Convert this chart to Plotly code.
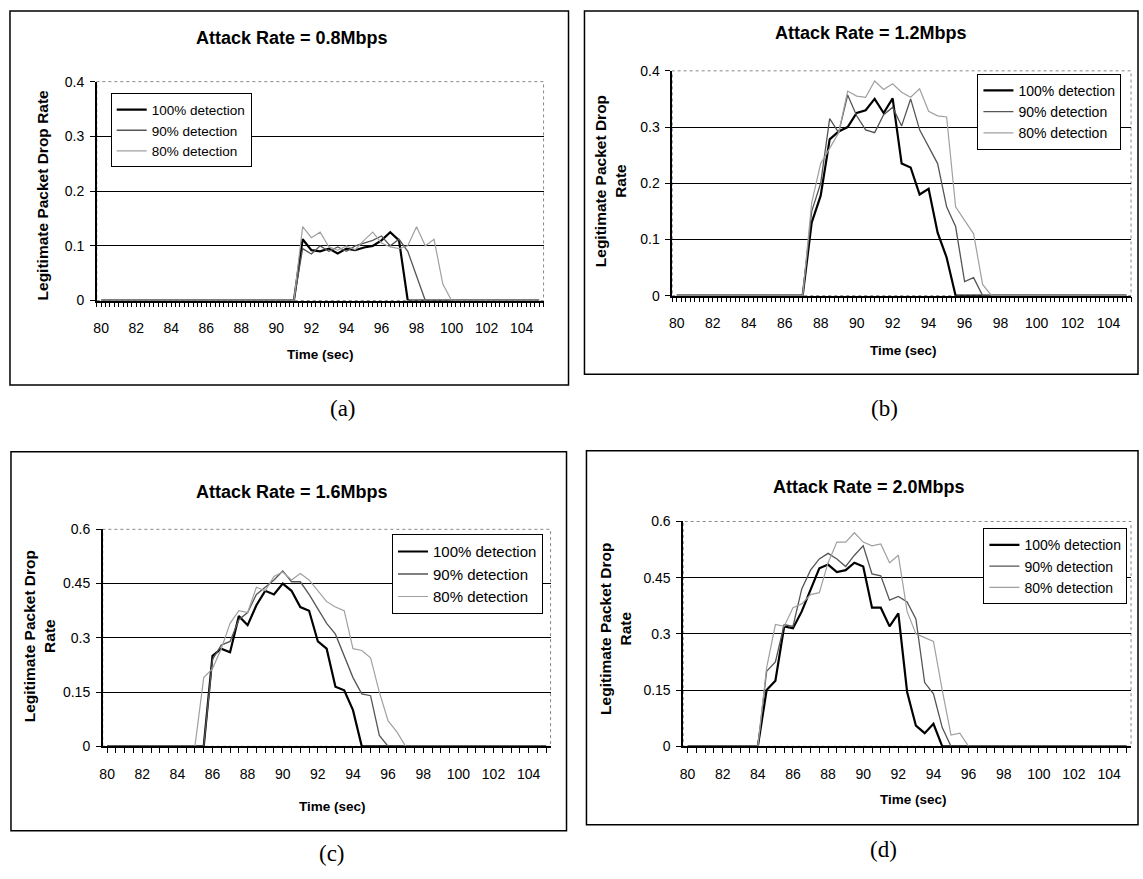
import plotly.graph_objects as go

W, H = 1143, 879

series_names = ["100% detection", "90% detection", "80% detection"]
panel_titles = ["Attack Rate = 0.8Mbps", "Attack Rate = 1.2Mbps",
                "Attack Rate = 1.6Mbps", "Attack Rate = 2.0Mbps"]
captions = ["(a)", "(b)", "(c)", "(d)"]
x_title = "Time (sec)"
y_title_a = "Legitimate Packet Drop Rate"
y_title_bcd = "Legitimate Packet Drop<br>Rate"
x_tick_first = 80
x_tick_step = 2
y_ticks_ab = [0, 0.1, 0.2, 0.3, 0.4]
y_labels_ab = ["0", "0.1", "0.2", "0.3", "0.4"]
y_ticks_cd = [0, 0.15, 0.3, 0.45, 0.6]
y_labels_cd = ["0", "0.15", "0.3", "0.45", "0.6"]

# ---- (a) 0.8 Mbps ----
a_t100 = [80, 91.0, 91.5, 92.0, 92.5, 93.0, 93.5, 94.0, 94.5, 95.0, 95.5, 96.0, 96.5, 97.0, 97.5, 105]
a_v100 = [0, 0, 0.112, 0.092, 0.090, 0.095, 0.086, 0.095, 0.092, 0.097, 0.100, 0.110, 0.125, 0.110, 0, 0]
a_t90 = [80, 91.0, 91.5, 92.0, 92.5, 93.0, 93.5, 94.0, 94.5, 95.0, 95.5, 96.0, 96.5, 97.0, 97.5, 98.0, 98.5, 105]
a_v90 = [0, 0, 0.095, 0.085, 0.100, 0.090, 0.098, 0.090, 0.100, 0.105, 0.110, 0.118, 0.100, 0.112, 0.090, 0.045, 0, 0]
a_t80 = [80, 91.0, 91.5, 92.0, 92.5, 93.0, 93.5, 94.0, 94.5, 95.0, 95.5, 96.0, 96.5, 97.0, 97.5, 98.0, 98.5, 99.0, 99.5, 100.0, 105]
a_v80 = [0, 0, 0.135, 0.115, 0.125, 0.098, 0.092, 0.100, 0.093, 0.110, 0.125, 0.105, 0.098, 0.095, 0.100, 0.135, 0.100, 0.112, 0.030, 0, 0]

# ---- (b) 1.2 Mbps ----
b_t100 = [80, 87.0, 87.5, 88.0, 88.5, 89.0, 89.5, 90.0, 90.5, 91.0, 91.5, 92.0, 92.5, 93.0, 93.5, 94.0, 94.5, 95.0, 95.5, 105]
b_v100 = [0, 0, 0.130, 0.178, 0.278, 0.292, 0.300, 0.325, 0.330, 0.350, 0.325, 0.351, 0.235, 0.228, 0.180, 0.190, 0.112, 0.068, 0, 0]
b_t90 = [80, 87.0, 87.5, 88.0, 88.5, 89.0, 89.5, 90.0, 90.5, 91.0, 91.5, 92.0, 92.5, 93.0, 93.5, 94.0, 94.5, 95.0, 95.5, 96.0, 96.5, 97.0, 105]
b_v90 = [0, 0, 0.150, 0.200, 0.315, 0.290, 0.357, 0.320, 0.295, 0.290, 0.322, 0.335, 0.302, 0.350, 0.295, 0.265, 0.235, 0.158, 0.123, 0.025, 0.032, 0, 0]
b_t80 = [80, 87.0, 87.5, 88.0, 88.5, 89.0, 89.5, 90.0, 90.5, 91.0, 91.5, 92.0, 92.5, 93.0, 93.5, 94.0, 94.5, 95.0, 95.5, 96.0, 96.5, 97.0, 97.5, 105]
b_v80 = [0, 0, 0.165, 0.235, 0.262, 0.290, 0.364, 0.355, 0.353, 0.382, 0.367, 0.377, 0.362, 0.353, 0.368, 0.328, 0.320, 0.318, 0.158, 0.135, 0.110, 0.020, 0, 0]

# ---- (c) 1.6 Mbps ----
c_t100 = [80, 85.5, 86.0, 86.5, 87.0, 87.5, 88.0, 88.5, 89.0, 89.5, 90.0, 90.5, 91.0, 91.5, 92.0, 92.5, 93.0, 93.5, 94.0, 94.5, 105]
c_v100 = [0, 0, 0.250, 0.270, 0.260, 0.360, 0.335, 0.390, 0.430, 0.420, 0.450, 0.430, 0.385, 0.375, 0.290, 0.270, 0.165, 0.155, 0.100, 0, 0]
c_t90 = [80, 85.5, 86.0, 86.5, 87.0, 87.5, 88.0, 88.5, 89.0, 89.5, 90.0, 90.5, 91.0, 91.5, 92.0, 92.5, 93.0, 93.5, 94.0, 94.5, 95.0, 95.5, 96.0, 105]
c_v90 = [0, 0, 0.240, 0.280, 0.290, 0.350, 0.370, 0.420, 0.440, 0.460, 0.485, 0.455, 0.455, 0.420, 0.380, 0.340, 0.310, 0.250, 0.190, 0.145, 0.140, 0.030, 0, 0]
c_t80 = [80, 85.0, 85.5, 86.0, 86.5, 87.0, 87.5, 88.0, 88.5, 89.0, 89.5, 90.0, 90.5, 91.0, 91.5, 92.0, 92.5, 93.0, 93.5, 94.0, 94.5, 95.0, 95.5, 96.0, 96.5, 97.0, 105]
c_v80 = [0, 0, 0.190, 0.215, 0.270, 0.340, 0.375, 0.370, 0.440, 0.430, 0.470, 0.482, 0.460, 0.478, 0.460, 0.430, 0.400, 0.385, 0.375, 0.270, 0.265, 0.245, 0.150, 0.070, 0.040, 0, 0]

# ---- (d) 2.0 Mbps ----
d_t100 = [80, 84.0, 84.5, 85.0, 85.5, 86.0, 86.5, 87.0, 87.5, 88.0, 88.5, 89.0, 89.5, 90.0, 90.5, 91.0, 91.5, 92.0, 92.5, 93.0, 93.5, 94.0, 94.5, 105]
d_v100 = [0, 0, 0.150, 0.175, 0.320, 0.315, 0.360, 0.420, 0.475, 0.485, 0.465, 0.470, 0.490, 0.480, 0.370, 0.370, 0.320, 0.355, 0.145, 0.055, 0.035, 0.060, 0, 0]
d_t90 = [80, 84.0, 84.5, 85.0, 85.5, 86.0, 86.5, 87.0, 87.5, 88.0, 88.5, 89.0, 89.5, 90.0, 90.5, 91.0, 91.5, 92.0, 92.5, 93.0, 93.5, 94.0, 94.5, 95.0, 105]
d_v90 = [0, 0, 0.200, 0.225, 0.325, 0.320, 0.420, 0.470, 0.500, 0.515, 0.500, 0.480, 0.510, 0.535, 0.460, 0.455, 0.390, 0.400, 0.385, 0.340, 0.170, 0.140, 0.050, 0, 0]
d_t80 = [80, 84.0, 84.5, 85.0, 85.5, 86.0, 86.5, 87.0, 87.5, 88.0, 88.5, 89.0, 89.5, 90.0, 90.5, 91.0, 91.5, 92.0, 92.5, 93.0, 93.5, 94.0, 94.5, 95.0, 95.5, 96.0, 105]
d_v80 = [0, 0, 0.210, 0.325, 0.320, 0.370, 0.380, 0.405, 0.410, 0.490, 0.545, 0.545, 0.570, 0.545, 0.535, 0.540, 0.490, 0.510, 0.360, 0.300, 0.290, 0.280, 0.150, 0.030, 0.035, 0, 0]

panels = [
    [(a_t100, a_v100), (a_t90, a_v90), (a_t80, a_v80)],
    [(b_t100, b_v100), (b_t90, b_v90), (b_t80, b_v80)],
    [(c_t100, c_v100), (c_t90, c_v90), (c_t80, c_v80)],
    [(d_t100, d_v100), (d_t90, d_v90), (d_t80, d_v80)],
]

# ---- layout geometry (pixels) ----
plot_px = [  # left, right, top, bottom of plot area
    (94, 542, 75, 298),
    (671, 1131, 64, 293),
    (100, 549, 531, 752),
    (682, 1131, 523, 752),
]
box_px = [(7, 567, 3, 384), (583, 1138, 3, 373), (8, 565, 452, 838), (585, 1138, 451, 832)]
title_px = [(290, 31), (870, 25), (290, 493), (868, 488)]
xtitle_px = [(318, 353), (903, 349), (330, 813), (913, 806)]
ytitle_px = [(40, 190), (609, 176), (36, 640), (614, 632)]
caption_px = [(341, 408), (884, 408), (330, 861), (883, 857)]
legend_px = [(108, 87, 13.5), (977, 67, 14), (390, 536, 15), (983, 530, 14)]
y_max = [0.4, 0.4, 0.6, 0.6]
minor_step = [0.25, 0.25, 0.5, 0.5]

line_styles = [dict(color="#000000", width=2.2),
               dict(color="#555555", width=1.3),
               dict(color="#a0a0a0", width=1.2)]

SANS = "Liberation Sans, Arial, sans-serif"
SERIF = "Liberation Serif, Times New Roman, serif"

def fx(x):
    return x / W

def fy(y):
    return 1 - y / H

fig = go.Figure()
layout = dict(width=W, height=H, margin=dict(l=0, r=0, t=0, b=0),
              paper_bgcolor="white", plot_bgcolor="white", showlegend=True)
annotations = []
shapes = []

for i in range(4):
    n = "" if i == 0 else str(i + 1)
    leg = "legend" if i == 0 else "legend" + str(i + 1)
    for k in range(3):
        t, v = panels[i][k]
        fig.add_trace(go.Scatter(x=t, y=v, mode="lines", name=series_names[k],
                                 line=line_styles[k], xaxis="x" + n, yaxis="y" + n,
                                 legend=leg))
    l, r, tp, bt = plot_px[i]
    yt, yl = (y_ticks_ab, y_labels_ab) if i < 2 else (y_ticks_cd, y_labels_cd)
    layout["xaxis" + n] = dict(domain=[fx(l), fx(r)], anchor="y" + n, range=[79.75, 105.25],
                               tickmode="linear", tick0=x_tick_first, dtick=x_tick_step,
                               ticks="outside", ticklen=5, tickcolor="black",
                               showline=True, linecolor="black", linewidth=1.5,
                               showgrid=False, zeroline=False, ticklabelstandoff=9,
                               minor=dict(dtick=minor_step[i], tick0=x_tick_first, ticks="outside",
                                          ticklen=5, tickcolor="black", showgrid=False),
                               tickfont=dict(family=SANS, size=14, color="black"))
    layout["yaxis" + n] = dict(domain=[fy(bt), fy(tp)], anchor="x" + n, range=[0, y_max[i]],
                               tickvals=yt, ticktext=yl, ticks="outside", ticklen=5, tickcolor="black",
                               showline=True, linecolor="black", linewidth=1.5,
                               showgrid=True, gridcolor="black", gridwidth=1, zeroline=False,
                               ticklabelstandoff=3,
                               tickfont=dict(family=SANS, size=14, color="black"))
    # dotted plot-area border (top/right)
    shapes.append(dict(type="rect", xref="x" + n + " domain", yref="y" + n + " domain",
                       x0=0, x1=1, y0=0, y1=1, line=dict(color="#888888", width=1, dash="dot"),
                       layer="below"))
    # outer box
    bl, br, btp, bbt = box_px[i]
    shapes.append(dict(type="rect", xref="paper", yref="paper", x0=fx(bl), x1=fx(br),
                       y0=fy(bbt), y1=fy(btp), line=dict(color="black", width=1.5)))
    annotations.append(dict(text="<b>" + panel_titles[i] + "</b>", x=fx(title_px[i][0]), y=fy(title_px[i][1]),
                            xref="paper", yref="paper", showarrow=False, xanchor="center", yanchor="middle",
                            font=dict(family=SANS, size=18, color="black")))
    annotations.append(dict(text="<b>" + x_title + "</b>", x=fx(xtitle_px[i][0]), y=fy(xtitle_px[i][1]),
                            xref="paper", yref="paper", showarrow=False, xanchor="center", yanchor="middle",
                            font=dict(family=SANS, size=13.5, color="black")))
    ytxt = y_title_a if i == 0 else y_title_bcd
    annotations.append(dict(text="<b>" + ytxt + "</b>", x=fx(ytitle_px[i][0]), y=fy(ytitle_px[i][1]),
                            xref="paper", yref="paper", showarrow=False, xanchor="center", yanchor="middle",
                            textangle=-90, font=dict(family=SANS, size=15.5, color="black")))
    annotations.append(dict(text=captions[i], x=fx(caption_px[i][0]), y=fy(caption_px[i][1]),
                            xref="paper", yref="paper", showarrow=False, xanchor="center", yanchor="middle",
                            font=dict(family=SERIF, size=23, color="black")))
    lx, ly, lf = legend_px[i]
    layout[leg] = dict(x=fx(lx), y=fy(ly), xref="paper", yref="paper", xanchor="left", yanchor="top",
                       bgcolor="white", bordercolor="black", borderwidth=1,
                       font=dict(family=SANS, size=lf, color="black"), itemwidth=30,
                       tracegroupgap=0)

layout["annotations"] = annotations
layout["shapes"] = shapes
fig.update_layout(**layout)
fig.write_html("out.html")
